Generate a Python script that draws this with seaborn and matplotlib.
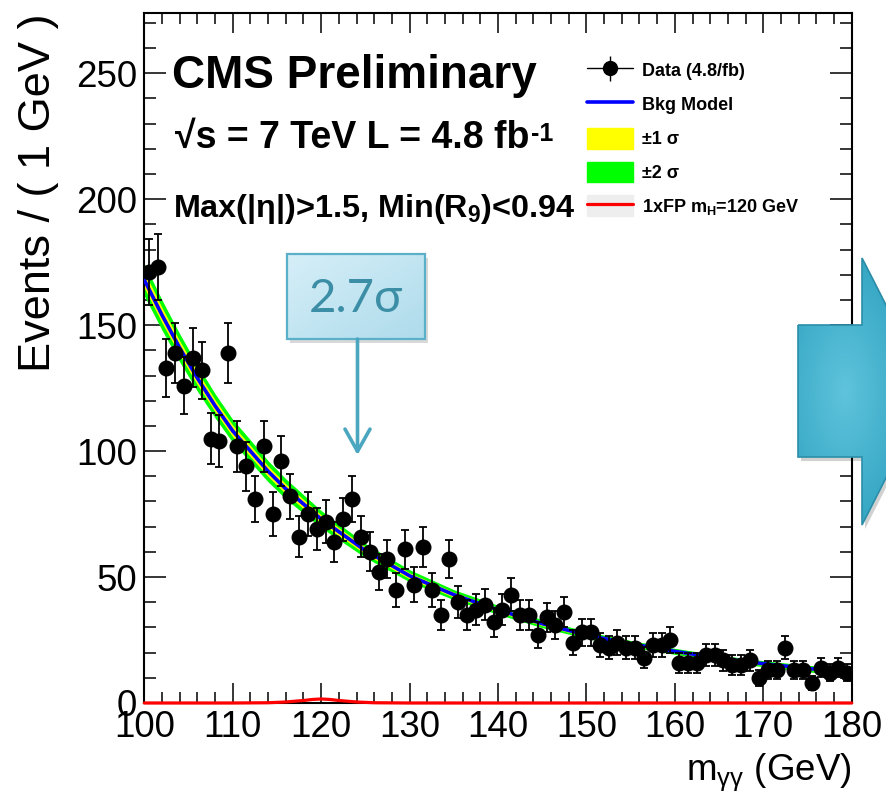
import numpy as np
import pandas as pd
import matplotlib
matplotlib.use("Agg")
import matplotlib.pyplot as plt
import seaborn as sns
from matplotlib.patches import Patch, Polygon, Rectangle
from matplotlib.lines import Line2D
from matplotlib.legend_handler import HandlerTuple
from matplotlib.colors import to_rgb

# ---------------- data ----------------
bin_centers = np.arange(100.5, 180.5, 1.0)   # 1 GeV bins, 100-180
counts = [171, 173, 133, 139, 126, 137, 132, 105, 104, 139,
          102, 94, 81, 102, 75, 96, 82, 66, 75, 69,
          72, 64, 73, 81, 66, 60, 52, 57, 45, 61,
          47, 62, 45, 35, 57, 40, 35, 37, 39, 32,
          37, 43, 35, 35, 27, 34, 31, 36, 24, 28,
          28, 23, 22, 24, 22, 22, 18, 23, 23, 25,
          16, 16, 16, 19, 19, 17, 15, 15, 17, 10,
          13, 13, 22, 13, 13, 8, 14, 12, 14, 12]

model_mass = [100, 102, 104, 106, 108, 110, 112, 114, 116, 118, 120,
              125, 130, 135, 140, 145, 150, 155, 160, 165, 170, 175, 180]
model_bkg = [168, 154, 141, 129, 118, 108, 100, 92, 85, 79, 73,
             60.5, 50.5, 43, 37, 31.5, 27, 23.5, 20.5, 17.8, 15.6, 13.7, 12]
model_sigma1 = [3.2, 3.0, 2.8, 2.6, 2.4, 2.3, 2.2, 2.1, 2.0, 1.85, 1.7,
                1.4, 1.2, 1.0, 0.9, 0.8, 0.7, 0.65, 0.6, 0.6, 0.6, 0.65, 0.7]

signal_mass = [100, 110, 114, 116, 118, 119, 120, 121, 122, 124, 126, 130, 180]
signal_yield = [0, 0, 0.1, 0.4, 1.0, 1.4, 1.6, 1.4, 1.0, 0.4, 0.1, 0, 0]

legend_labels = ["Data (4.8/fb)", "Bkg Model", "±1 σ", "±2 σ",
                 r"1xFP m$_{\mathbf{H}}$=120 GeV"]

# ---------------- style ----------------
sns.set_theme(style="ticks")
plt.rcParams['font.family'] = ['Liberation Sans', 'DejaVu Sans']
plt.rcParams['mathtext.fontset'] = 'custom'
plt.rcParams['mathtext.rm'] = 'Liberation Sans'
plt.rcParams['mathtext.bf'] = 'Liberation Sans:bold'
plt.rcParams['mathtext.it'] = 'Liberation Sans:italic'
for k in ['text.color', 'axes.labelcolor', 'xtick.color', 'ytick.color',
          'axes.edgecolor']:
    plt.rcParams[k] = 'black'

W, H = 887, 800
fig = plt.figure(figsize=(W / 100, H / 100), dpi=100)
x0, x1, y0, y1 = 144.3, 851.7, 703.0, 13.3
ax = fig.add_axes([x0 / W, 1 - y0 / H, (x1 - x0) / W, (y0 - y1) / H])
ax.set_facecolor('white')

mm = np.array(model_mass, float)
bk = np.array(model_bkg, float)
s1 = np.array(model_sigma1, float)

ax.fill_between(mm, bk - 2 * s1, bk + 2 * s1, color='#00ff00', lw=0, zorder=2)
ax.fill_between(mm, bk - s1, bk + s1, color='#ffff00', lw=0, zorder=2.1)
sns.lineplot(x=mm, y=bk, ax=ax, color='#0000ff', lw=2.6, zorder=3)

sns.lineplot(x=signal_mass, y=signal_yield, ax=ax, color='#ff0000', lw=2.3,
             zorder=4, clip_on=False)

cnt = np.array(counts, float)
ax.errorbar(bin_centers, cnt, yerr=np.sqrt(cnt), fmt='o', color='black',
            ms=10.5, elinewidth=1.3, capsize=3, capthick=1.3, zorder=6)

ax.set_xlim(100, 180)
ax.set_ylim(0, 273.8)
ax.set_xticks(np.arange(100, 181, 10))
ax.set_xticks(np.arange(100, 181, 2), minor=True)
ax.set_yticks(np.arange(0, 251, 50))
ax.set_yticks(np.arange(0, 271, 10), minor=True)
ax.tick_params(which='both', direction='in', top=True, right=True,
               width=1.1, colors='black', labelsize=26.5)
ax.tick_params(axis='x', which='major', length=14.5, pad=5)
ax.tick_params(axis='x', which='minor', length=8)
ax.tick_params(axis='y', which='major', length=16, pad=5)
ax.tick_params(axis='y', which='minor', length=8.8)
for sp in ax.spines.values():
    sp.set_linewidth(1.5)
    sp.set_color('black')
    sp.set_visible(True)

ax.set_ylabel("Events / ( 1 GeV )", fontsize=32.5, loc='top')
ax.yaxis.set_label_coords(-0.121, 1.0)
ax.set_xlabel(r"m$_{\mathrm{\gamma\gamma}}$ (GeV)", fontsize=26.5, loc='right')
ax.xaxis.set_label_coords(1.0, -0.071)

# text annotations
def axf(px, py):
    return ((px - x0) / (x1 - x0), (y0 - py) / (y0 - y1))

ax.text(*axf(172, 88), "CMS Preliminary", transform=ax.transAxes,
        fontsize=33, fontweight='bold', va='baseline', ha='left')
t2 = ax.text(*axf(175, 148), "√s = 7 TeV L = 4.8 fb",
             transform=ax.transAxes, fontsize=27, fontweight='bold',
             va='baseline', ha='left')
ax.annotate("-1", xy=(1.0, 0.95), xycoords=t2, xytext=(1, 0),
            textcoords='offset points', fontsize=18, fontweight='bold',
            va='top', ha='left')
ax.text(*axf(173, 217), r"Max(|η|)>1.5, Min(R$_{\mathbf{9}}$)<0.94",
        transform=ax.transAxes, fontsize=23.3, fontweight='bold',
        va='baseline', ha='left')

# legend
h_data = (Line2D([], [], color='black', lw=1.0),
          Line2D([], [], color='black', marker='o', ms=10, ls='none'),
          Line2D([], [], color='black', marker='|', ms=18, mew=1.0, ls='none'))
h_bkg = Line2D([], [], color='#0000ff', lw=2.6)
h_1s = Patch(color='#ffff00')
h_2s = Patch(color='#00ff00')
h_sig = (Patch(color='#eeeeee'), Line2D([], [], color='#ff0000', lw=2.3))
leg = ax.legend([h_data, h_bkg, h_1s, h_2s, h_sig], legend_labels,
                handler_map={tuple: HandlerTuple(ndivide=1, pad=0)},
                loc='upper left', bbox_to_anchor=(587 / W, 1 - 60 / H),
                bbox_transform=fig.transFigure, frameon=False,
                prop={'family': 'Liberation Sans', 'weight': 'bold', 'size': 13},
                handlelength=2.55, handleheight=1.4, handletextpad=0.5,
                labelspacing=0.72, borderpad=0, borderaxespad=0)

# ---------------- overlay (callout + big arrow) ----------------
ov = fig.add_axes([0, 0, 1, 1], zorder=10)
ov.axis('off')

def grad_img(c_in, c_out, radial=True, n=120):
    a, b = np.array(to_rgb(c_in)), np.array(to_rgb(c_out))
    yy, xx = np.mgrid[0:1:n * 1j, 0:1:n * 1j]
    if radial:
        t = np.clip(np.sqrt((xx - 0.35) ** 2 + (yy - 0.5) ** 2) / 0.6, 0, 1)
    else:
        t = np.clip((xx + yy) / 2, 0, 1)
    return a[None, None, :] * (1 - t[..., None]) + b[None, None, :] * t[..., None]

# big arrow
arrow_pts = [(798, 325), (862, 325), (862, 258), (930, 391.5),
             (862, 525), (862, 457), (798, 457)]
shadow = Polygon([(x + 3, y + 4) for x, y in arrow_pts], closed=True,
                 fc='black', alpha=0.18, lw=0)
ov.add_patch(shadow)
poly = Polygon(arrow_pts, closed=True, fc='none', ec='#2b8ea9', lw=1.2, zorder=3)
ov.add_patch(poly)
im = ov.imshow(grad_img('#5fc3dc', '#2fa2c0'), extent=[798, 930, 525, 258],
               aspect='auto', zorder=2)
im.set_clip_path(poly)

# callout box
bx, by, bw, bh = 287, 254, 138, 85
ov.add_patch(Rectangle((bx + 3, by + 4), bw, bh, fc='black', alpha=0.15, lw=0))
box = Rectangle((bx, by), bw, bh, fc='none', ec='#5ab0c8', lw=1.6, zorder=3)
ov.add_patch(box)
im2 = ov.imshow(grad_img('#d6eff8', '#aedbeb', radial=False),
                extent=[bx, bx + bw, by + bh, by], aspect='auto', zorder=2)
im2.set_clip_path(box)
ov.text(bx + bw / 2, by + bh / 2 + 2, "2.7σ", fontsize=34, color='#3b8ea5',
        family=['Lato', 'DejaVu Sans'], ha='center', va='center', zorder=4)
ov.annotate('', xy=(357.5, 455), xytext=(357.5, by + bh),
            arrowprops=dict(arrowstyle='->,head_length=0.8,head_width=0.45',
                            color='#4aa7bf', lw=2.6, mutation_scale=20,
                            shrinkA=0, shrinkB=0), zorder=4)

ov.set_xlim(0, W)
ov.set_ylim(H, 0)

fig.savefig("out.png", dpi=100)
